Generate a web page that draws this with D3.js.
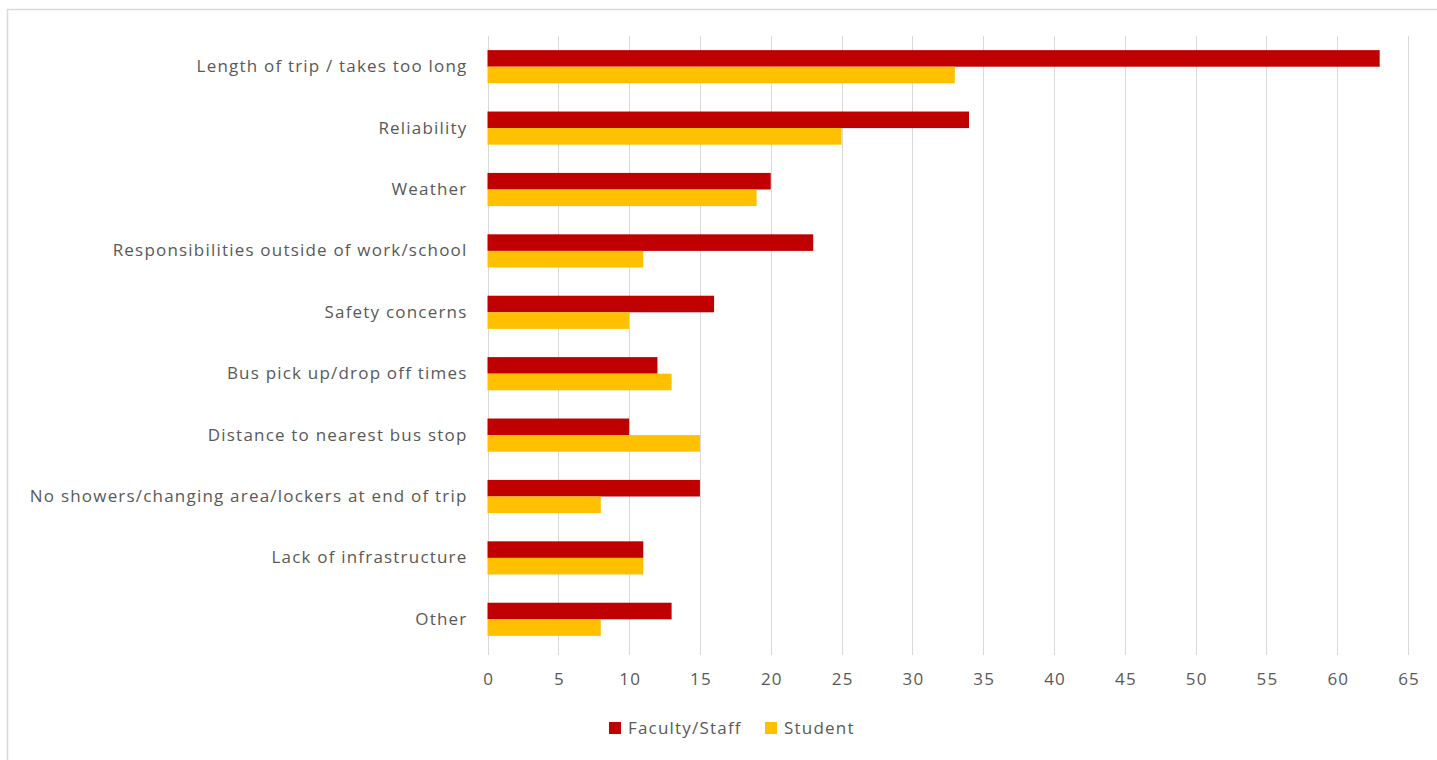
<!DOCTYPE html>
<html>
<head>
<meta charset="utf-8">
<script src="https://cdn.jsdelivr.net/npm/d3@7"></script>
<style>
  html, body { margin: 0; padding: 0; background: #fff; }
  svg { display: block; }
  text { font-family: "Open Sans", sans-serif; fill: #595959; letter-spacing: 1.2px; }
</style>
</head>
<body>
<svg id="chart" width="1437" height="760"></svg>
<script>
// Reasons for not taking the bus, by respondent group
const categories = [
  "Length of trip / takes too long",
  "Reliability",
  "Weather",
  "Responsibilities outside of work/school",
  "Safety concerns",
  "Bus pick up/drop off times",
  "Distance to nearest bus stop",
  "No showers/changing area/lockers at end of trip",
  "Lack of infrastructure",
  "Other"
];
const seriesNames = ["Faculty/Staff", "Student"];
const facultyStaff = [63, 34, 20, 23, 16, 12, 10, 15, 11, 13];
const student      = [33, 25, 19, 11, 10, 13, 15, 8, 11, 8];
const tickValues = [0, 5, 10, 15, 20, 25, 30, 35, 40, 45, 50, 55, 60, 65];
const colors = ["#C00000", "#FFC000"];

const FONT = "'Open Sans', sans-serif";
const svg = d3.select("#chart");
const W = 1437, H = 760;

// Chart frame
svg.append("line").attr("x1", 7.5).attr("x2", 7.5).attr("y1", 9).attr("y2", H)
  .attr("stroke", "#d9d9d9").attr("stroke-width", 1.5);
svg.append("line").attr("x1", 7).attr("x2", W).attr("y1", 9.5).attr("y2", 9.5)
  .attr("stroke", "#d9d9d9").attr("stroke-width", 1.5);

const plot = { left: 487.5, right: 1408, top: 36, bottom: 650 };

const x = d3.scaleLinear().domain([0, 65]).range([plot.left, plot.right]);
const y = d3.scaleBand().domain(categories).range([plot.top, plot.bottom]).paddingInner(0.46).paddingOuter(0.23);
const ySub = d3.scaleBand().domain(seriesNames).range([0, y.bandwidth()]);

// Vertical gridlines with small tick marks below the plot
const grid = svg.append("g");
grid.selectAll("line").data(tickValues).join("line")
  .attr("x1", d => Math.round(x(d)) + 0.5).attr("x2", d => Math.round(x(d)) + 0.5)
  .attr("y1", plot.top).attr("y2", plot.bottom + 5)
  .attr("stroke", "#d9d9d9").attr("stroke-width", 1);

// X axis labels
const xAxis = d3.axisBottom(x).tickValues(tickValues).tickSize(0).tickPadding(0);
const gx = svg.append("g").attr("transform", `translate(0,${plot.bottom + 23})`).call(xAxis);
gx.select(".domain").remove();
gx.selectAll("text").attr("font-size", 17).attr("dy", "0.71em").attr("dx", "0.6")
  .style("font-family", FONT).attr("fill", "#595959");

// Y axis category labels
const yAxis = d3.axisLeft(y).tickSize(0).tickPadding(20);
const gy = svg.append("g").attr("transform", `translate(${plot.left},0)`).call(yAxis);
gy.select(".domain").remove();
gy.selectAll("text").attr("font-size", 17)
  .style("font-family", FONT).attr("fill", "#595959");

// Bars
const rows = categories.map((c, i) => ({ cat: c, vals: [facultyStaff[i], student[i]] }));
const g = svg.append("g");
rows.forEach(r => {
  r.vals.forEach((v, j) => {
    g.append("rect")
      .attr("x", x(0))
      .attr("y", y(r.cat) + ySub(seriesNames[j]))
      .attr("width", x(v) - x(0))
      .attr("height", ySub.bandwidth())
      .attr("fill", colors[j]);
  });
});

// Legend
const legend = svg.append("g").attr("transform", "translate(609,728)");
const items = [{ name: seriesNames[0], color: colors[0], dx: 0 }, { name: seriesNames[1], color: colors[1], dx: 156 }];
items.forEach(it => {
  const lg = legend.append("g").attr("transform", `translate(${it.dx},0)`);
  lg.append("rect").attr("x", 0).attr("y", -6).attr("width", 12).attr("height", 12).attr("fill", it.color);
  lg.append("text").attr("x", 19).attr("y", 0).attr("dy", "0.35em").attr("font-size", 17)
    .style("font-family", FONT).text(it.name);
});
</script>
</body>
</html>
